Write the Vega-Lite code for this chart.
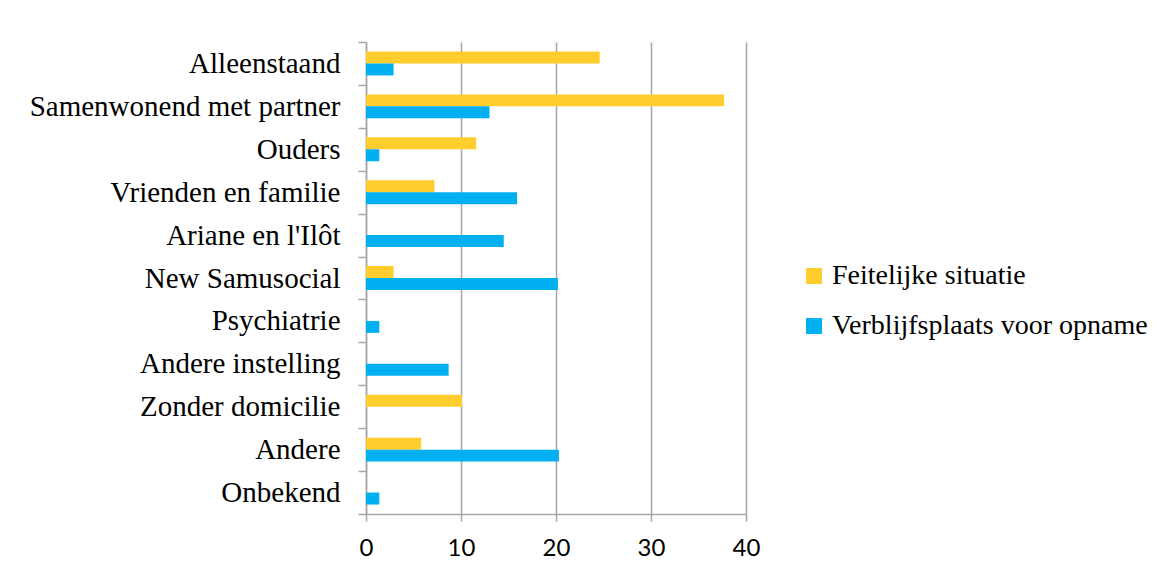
{
  "$schema": "https://vega.github.io/schema/vega-lite/v6.json",
  "autosize": "none",
  "width": 380,
  "height": 472,
  "padding": {"left": 366, "top": 42, "right": 422, "bottom": 58},
  "background": "white",
  "data": {
    "values": [
      {"cat": "Alleenstaand", "series": "Feitelijke situatie", "value": 24.6},
      {"cat": "Alleenstaand", "series": "Verblijfsplaats voor opname", "value": 2.9},
      {"cat": "Samenwonend met partner", "series": "Feitelijke situatie", "value": 37.7},
      {"cat": "Samenwonend met partner", "series": "Verblijfsplaats voor opname", "value": 13.0},
      {"cat": "Ouders", "series": "Feitelijke situatie", "value": 11.6},
      {"cat": "Ouders", "series": "Verblijfsplaats voor opname", "value": 1.4},
      {"cat": "Vrienden en familie", "series": "Feitelijke situatie", "value": 7.2},
      {"cat": "Vrienden en familie", "series": "Verblijfsplaats voor opname", "value": 15.9},
      {"cat": "Ariane en l'Ilôt", "series": "Feitelijke situatie", "value": 0},
      {"cat": "Ariane en l'Ilôt", "series": "Verblijfsplaats voor opname", "value": 14.5},
      {"cat": "New Samusocial", "series": "Feitelijke situatie", "value": 2.9},
      {"cat": "New Samusocial", "series": "Verblijfsplaats voor opname", "value": 20.2},
      {"cat": "Psychiatrie", "series": "Feitelijke situatie", "value": 0},
      {"cat": "Psychiatrie", "series": "Verblijfsplaats voor opname", "value": 1.4},
      {"cat": "Andere instelling", "series": "Feitelijke situatie", "value": 0},
      {"cat": "Andere instelling", "series": "Verblijfsplaats voor opname", "value": 8.7},
      {"cat": "Zonder domicilie", "series": "Feitelijke situatie", "value": 10.1},
      {"cat": "Zonder domicilie", "series": "Verblijfsplaats voor opname", "value": 0},
      {"cat": "Andere", "series": "Feitelijke situatie", "value": 5.8},
      {"cat": "Andere", "series": "Verblijfsplaats voor opname", "value": 20.3},
      {"cat": "Onbekend", "series": "Feitelijke situatie", "value": 0},
      {"cat": "Onbekend", "series": "Verblijfsplaats voor opname", "value": 1.4}
    ]
  },
  "mark": {"type": "bar", "cornerRadius": 0},
  "encoding": {
    "y": {
      "field": "cat",
      "type": "nominal",
      "sort": null,
      "scale": {"paddingInner": 0, "paddingOuter": 0},
      "axis": {
        "title": null,
        "tickBand": "extent",
        "tickSize": 8,
        "tickColor": "#a6a6a6",
        "tickWidth": 1.5,
        "domainColor": "#a6a6a6",
        "domainWidth": 1.5,
        "labelPadding": 18,
        "labelFont": "Liberation Serif",
        "labelFontSize": 29,
        "labelColor": "#000000",
        "labelLimit": 400
      }
    },
    "yOffset": {
      "field": "series",
      "type": "nominal",
      "sort": ["Feitelijke situatie", "Verblijfsplaats voor opname"],
      "scale": {"paddingInner": 0, "paddingOuter": 0.79}
    },
    "x": {
      "field": "value",
      "type": "quantitative",
      "scale": {"domain": [0, 40], "nice": false},
      "axis": {
        "title": null,
        "values": [0, 10, 20, 30, 40],
        "grid": true,
        "gridColor": "#a6a6a6",
        "gridWidth": 1.5,
        "tickSize": 7,
        "tickColor": "#a6a6a6",
        "tickWidth": 1.5,
        "domainColor": "#a6a6a6",
        "domainWidth": 1.5,
        "labelPadding": 15,
        "labelFlush": false,
        "labelFont": "Lato",
        "labelFontSize": 24,
        "labelColor": "#000000"
      }
    },
    "color": {
      "field": "series",
      "type": "nominal",
      "scale": {
        "domain": ["Feitelijke situatie", "Verblijfsplaats voor opname"],
        "range": ["#FFCD2E", "#00B0F0"]
      },
      "legend": {
        "title": null,
        "orient": "none",
        "legendX": 434,
        "legendY": 220,
        "padding": 0,
        "symbolType": "square",
        "symbolSize": 256,
        "symbolStrokeWidth": 0,
        "labelFont": "Liberation Serif",
        "labelFontSize": 28,
        "labelColor": "#000000",
        "labelOffset": 4,
        "rowPadding": 22,
        "labelLimit": 500
      }
    }
  },
  "config": {
    "view": {"stroke": null}
  }
}
